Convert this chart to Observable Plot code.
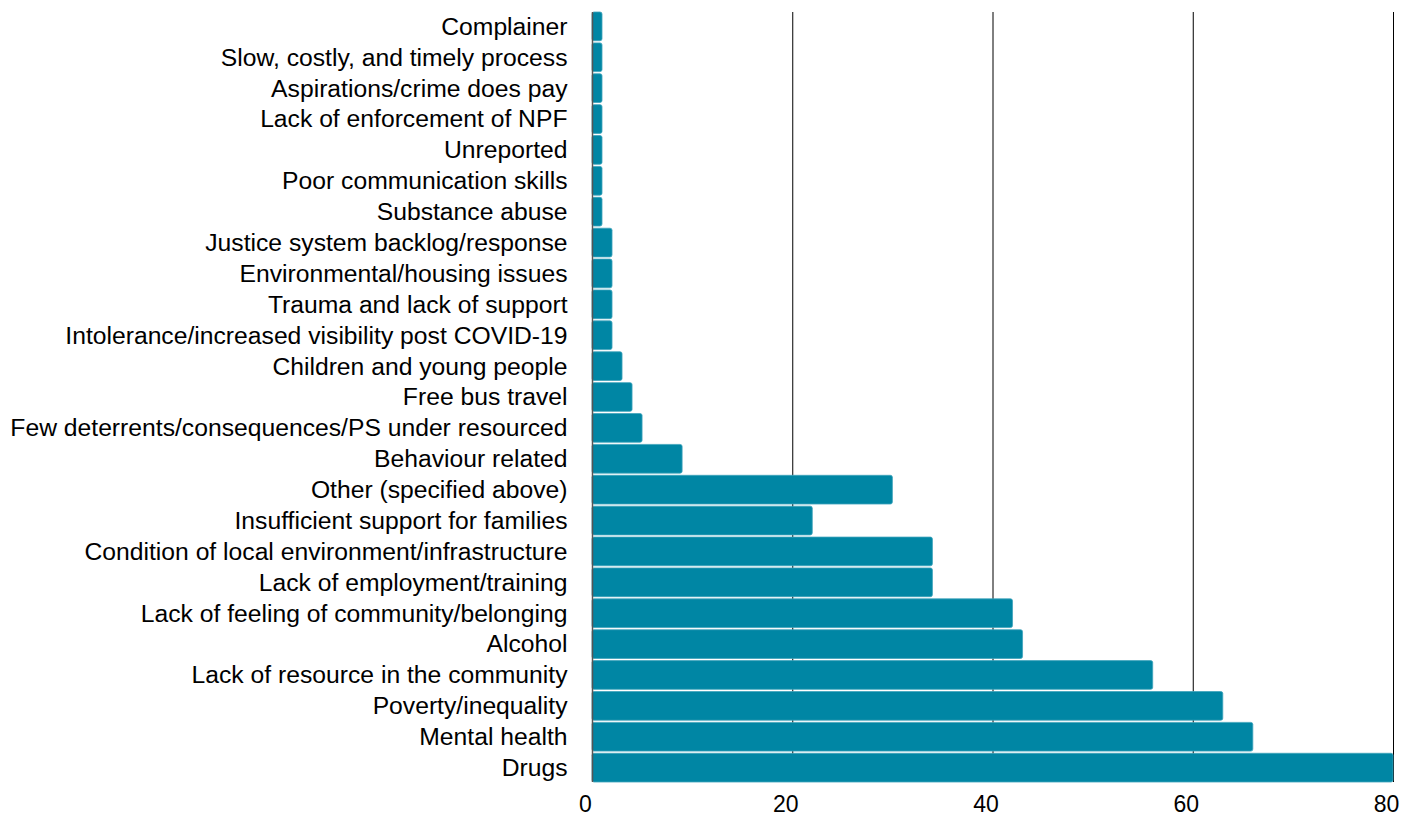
<!DOCTYPE html>
<html>
<head>
<meta charset="utf-8">
<script src="https://cdn.jsdelivr.net/npm/d3@7"></script>
<script src="https://cdn.jsdelivr.net/npm/@observablehq/plot@0.6"></script>
<style>
  html, body { margin: 0; padding: 0; background: #fff; }
  #chart svg { display: block; }
</style>
</head>
<body>
<div id="chart"></div>
<script>
const categories = [
  "Complainer",
  "Slow, costly, and timely process",
  "Aspirations/crime does pay",
  "Lack of enforcement of NPF",
  "Unreported",
  "Poor communication skills",
  "Substance abuse",
  "Justice system backlog/response",
  "Environmental/housing issues",
  "Trauma and lack of support",
  "Intolerance/increased visibility post COVID-19",
  "Children and young people",
  "Free bus travel",
  "Few deterrents/consequences/PS under resourced",
  "Behaviour related",
  "Other (specified above)",
  "Insufficient support for families",
  "Condition of local environment/infrastructure",
  "Lack of employment/training",
  "Lack of feeling of community/belonging",
  "Alcohol",
  "Lack of resource in the community",
  "Poverty/inequality",
  "Mental health",
  "Drugs"
];
const values = [1, 1, 1, 1, 1, 1, 1, 2, 2, 2, 2, 3, 4, 5, 9, 30, 22, 34, 34, 42, 43, 56, 63, 66, 80];
const xTicks = [0, 20, 40, 60, 80];
const gridTicks = [20, 40, 60, 80];

const data = categories.map((c, i) => ({category: c, value: values[i]}));

const chart = Plot.plot({
  width: 1414,
  height: 820,
  marginLeft: 592,
  marginRight: 21,
  marginTop: 12,
  marginBottom: 38,
  style: {fontFamily: "'Liberation Sans', Arial, sans-serif", fontSize: "24.7px", color: "#000", background: "#fff"},
  x: {domain: [0, 80], ticks: xTicks},
  y: {domain: categories, paddingInner: 0.07, paddingOuter: 0, round: false},
  marks: [
    Plot.ruleX(gridTicks, {stroke: "#000", strokeWidth: 1}),
    Plot.barX(data, {
      y: "category",
      x: "value",
      fill: "#0086A4",
      stroke: "#3FA3BB",
      strokeWidth: 0.8,
      rx: 2
    }),
    Plot.ruleX([0], {stroke: "#555", strokeWidth: 1.5}),
    Plot.axisX({ticks: xTicks, tickSize: 0, tickPadding: 13, fontSize: 23, dx: -7, label: null}),
    Plot.axisY({tickSize: 0, tickPadding: 25, fontSize: 24.7, label: null})
  ]
});
document.getElementById("chart").append(chart);
</script>
</body>
</html>
